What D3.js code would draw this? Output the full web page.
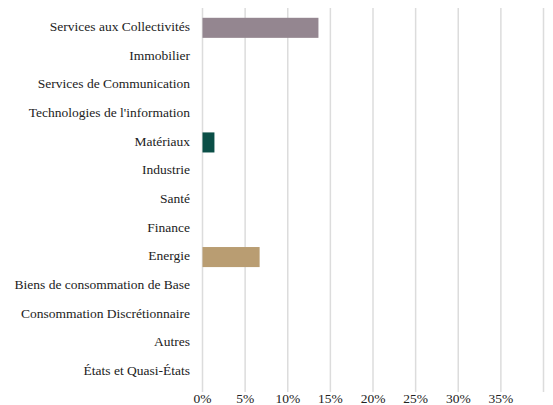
<!DOCTYPE html>
<html><head><meta charset="utf-8">
<script src="https://cdn.jsdelivr.net/npm/d3@7"></script>
<style>body{margin:0;background:#fff}</style>
</head><body>
<svg id="c" width="553" height="405"></svg>
<script>
const categories = ["Services aux Collectivités","Immobilier","Services de Communication","Technologies de l'information","Matériaux","Industrie","Santé","Finance","Energie","Biens de consommation de Base","Consommation Discrétionnaire","Autres","États et Quasi-États"];
const values = [13.6,0,0,0,1.4,0,0,0,6.7,0,0,0,0];
const colors = ["#948690","#948690","#948690","#948690","#0b4f47","#948690","#948690","#948690","#b99d72","#948690","#948690","#948690","#948690"];
const tickValues = [0,5,10,15,20,25,30,35,40];
const tickLabels = ["0%","5%","10%","15%","20%","25%","30%","35%",""];

const svg = d3.select("#c");
const x = d3.scaleLinear().domain([0,40]).range([202.5,543.5]);
const y = d3.scaleBand().domain(categories).range([13.5,386]).paddingInner(0.3).paddingOuter(0.15);
const font = "'Liberation Serif', 'Times New Roman', serif";

svg.append("g").selectAll("line").data(tickValues).join("line")
  .attr("x1",d=>x(d)).attr("x2",d=>x(d)).attr("y1",8).attr("y2",392)
  .attr("stroke","#dcdcdc").attr("stroke-width",1.5);

svg.append("g").selectAll("rect").data(categories).join("rect")
  .attr("x",x(0)).attr("y",d=>y(d))
  .attr("width",(d,i)=>x(values[i])-x(0)).attr("height",y.bandwidth())
  .attr("fill",(d,i)=>colors[i]);

svg.append("g").selectAll("text").data(categories).join("text")
  .attr("x",190).attr("y",d=>y(d)+y.bandwidth()/2 - 1.5).attr("dy","0.35em")
  .attr("text-anchor","end").attr("font-family",font).attr("font-size",13.5).attr("fill","#222")
  .text(d=>d);

svg.append("g").selectAll("text").data(tickValues).join("text")
  .attr("x",d=>x(d)).attr("y",403)
  .attr("text-anchor","middle").attr("font-family",font).attr("font-size",13.5).attr("fill","#222")
  .text((d,i)=>tickLabels[i]);
</script>
</body></html>
